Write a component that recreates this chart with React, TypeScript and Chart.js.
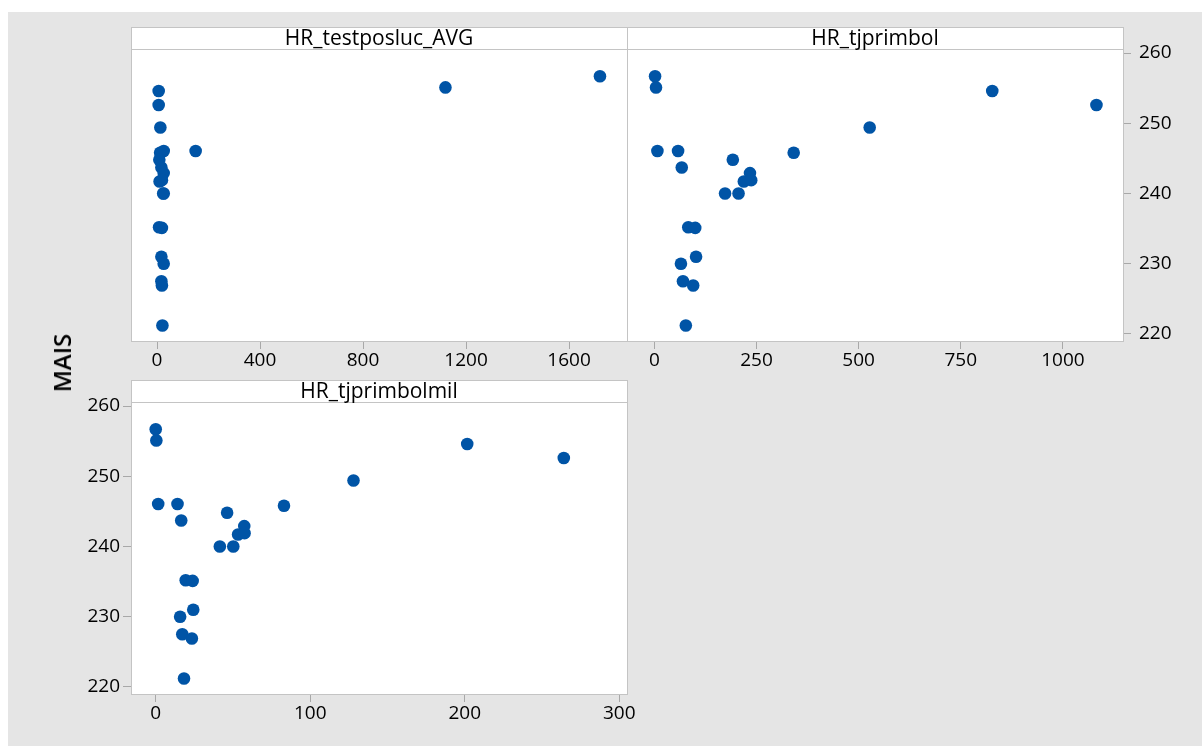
import { useEffect, useRef } from 'react';
import { Chart, registerables } from 'chart.js';

Chart.register(...registerables);

// ---- data ----
const MAIS = [256.7, 255.1, 254.6, 252.6, 249.4, 246.05, 246.05, 245.8, 243.7, 244.8, 242.9, 241.7, 241.9, 240.0, 240.0, 235.2, 235.1, 231.0, 230.0, 227.5, 226.9, 221.2];
const HR_testposluc_AVG = [1720, 1120, 6.5, 6.5, 13, 26, 150, 12, 17, 9, 26, 10, 19, 26, 24, 8, 19, 17, 26, 17, 19, 21];
const HR_tjprimbol = [1.7, 4, 827, 1082, 527, 7.4, 58, 341, 67, 192, 234, 219, 237, 173, 206, 83, 100, 102, 65, 70, 95, 77];
const HR_tjprimbolmil = [0, 0.4, 201.6, 264.1, 128, 1.6, 14.1, 83, 16.5, 46.2, 57.3, 53.3, 57.5, 41.5, 50.2, 19.4, 23.9, 24.3, 15.8, 17.2, 23.4, 18.3];

const xTicksAvg = [0, 400, 800, 1200, 1600];
const xTicksTjp = [0, 250, 500, 750, 1000];
const xTicksMil = [0, 100, 200, 300];
const yTicks = [220, 230, 240, 250, 260];
const panelTitles = ['HR_testposluc_AVG', 'HR_tjprimbol', 'HR_tjprimbolmil'];
const yAxisTitle = 'MAIS';

// ---- styling ----
const FONT = "'Open Sans', 'Noto Sans', sans-serif";
const W = 1202;
const H = 746;
const BLUE = '#0054a6';
const TICK = '#a8a8a8';
const FRAME = '#c4c4c4';
const Y_MIN = 219.0;
const Y_MAX = 260.57;

const framePlugin = {
  id: 'panelFrame',
  beforeDraw(chart: any, _a: any, opts: any) {
    const { ctx, chartArea: a } = chart;
    ctx.save();
    ctx.fillStyle = '#ffffff';
    ctx.fillRect(a.left, a.top - opts.strip, a.right - a.left, a.bottom - a.top + opts.strip);
    ctx.restore();
  },
  afterDraw(chart: any, _a: any, opts: any) {
    const { ctx, chartArea: a } = chart;
    const top = a.top - opts.strip;
    ctx.save();
    ctx.strokeStyle = FRAME;
    ctx.lineWidth = 1;
    ctx.strokeRect(a.left + 0.5, top + 0.5, a.right - a.left, a.bottom - top);
    ctx.beginPath();
    ctx.moveTo(a.left, a.top + 0.5);
    ctx.lineTo(a.right, a.top + 0.5);
    ctx.stroke();
    ctx.fillStyle = '#000';
    ctx.font = `21px ${FONT}`;
    ctx.textAlign = 'center';
    ctx.textBaseline = 'middle';
    ctx.fillText(opts.title, (a.left + a.right) / 2, top + opts.strip / 2 + 1);
    ctx.restore();
  },
};

type Panel = {
  xs: number[];
  title: string;
  xMin: number;
  xMax: number;
  xTicks: number[];
  yPos: 'none' | 'left' | 'right';
  padding: { left: number; right: number; top: number; bottom: number };
};

function makeConfig(p: Panel): any {
  const showY = p.yPos !== 'none';
  return {
    type: 'scatter',
    data: {
      datasets: [
        {
          data: p.xs.map((x, i) => ({ x, y: MAIS[i] })),
          backgroundColor: BLUE,
          borderWidth: 0,
          pointRadius: 6.3,
          pointHoverRadius: 6.3,
        },
      ],
    },
    options: {
      responsive: false,
      animation: false,
      events: [],
      layout: { padding: p.padding },
      plugins: {
        legend: { display: false },
        tooltip: { enabled: false },
        panelFrame: { title: p.title, strip: 22 },
      },
      scales: {
        x: {
          type: 'linear',
          position: 'bottom',
          min: p.xMin,
          max: p.xMax,
          afterBuildTicks: (s: any) => {
            s.ticks = p.xTicks.map((v) => ({ value: v }));
          },
          afterFit: (s: any) => {
            s.height = 40;
          },
          grid: { drawOnChartArea: false, drawTicks: true, tickLength: 8, color: TICK, lineWidth: 1 },
          border: { display: false },
          ticks: {
            font: { family: FONT, size: 19 },
            color: '#000',
            padding: 0,
            maxRotation: 0,
            autoSkip: false,
            callback: (v: any) => String(v),
          },
        },
        y: {
          type: 'linear',
          position: p.yPos === 'right' ? 'right' : 'left',
          display: showY,
          min: Y_MIN,
          max: Y_MAX,
          afterBuildTicks: (s: any) => {
            s.ticks = yTicks.map((v) => ({ value: v }));
          },
          afterFit: (s: any) => {
            s.width = showY ? 50 : 0;
          },
          grid: { drawOnChartArea: false, drawTicks: true, tickLength: 8, color: TICK, lineWidth: 1 },
          border: { display: false },
          ticks: {
            font: { family: FONT, size: 19 },
            color: '#000',
            padding: p.yPos === 'right' ? 8 : 3,
            autoSkip: false,
            callback: (v: any) => String(v),
          },
        },
      },
    },
    plugins: [framePlugin],
  };
}

export default function App() {
  const c1 = useRef<HTMLCanvasElement>(null);
  const c2 = useRef<HTMLCanvasElement>(null);
  const c3 = useRef<HTMLCanvasElement>(null);

  useEffect(() => {
    const panels: Panel[] = [
      {
        xs: HR_testposluc_AVG,
        title: panelTitles[0],
        xMin: -101,
        xMax: 1825,
        xTicks: xTicksAvg,
        yPos: 'none',
        padding: { left: 131, right: W - 627, top: 49, bottom: H - 341 - 40 },
      },
      {
        xs: HR_tjprimbol,
        title: panelTitles[1],
        xMin: -67,
        xMax: 1147,
        xTicks: xTicksTjp,
        yPos: 'right',
        padding: { left: 627, right: W - 1123 - 50, top: 49, bottom: H - 341 - 40 },
      },
      {
        xs: HR_tjprimbolmil,
        title: panelTitles[2],
        xMin: -16,
        xMax: 305,
        xTicks: xTicksMil,
        yPos: 'left',
        padding: { left: 131 - 50, right: W - 627, top: 402, bottom: H - 694 - 40 },
      },
    ];
    const refs = [c1, c2, c3];
    const charts = panels.map((p, i) => new Chart(refs[i].current as HTMLCanvasElement, makeConfig(p)));
    return () => charts.forEach((c) => c.destroy());
  }, []);

  const canvasStyle: any = { position: 'absolute', left: 0, top: 0, width: W, height: H };

  return (
    <div style={{ position: 'absolute', left: 0, top: 0, width: W, height: H, background: '#ffffff', overflow: 'hidden' }}>
      <div style={{ position: 'absolute', left: 8, top: 12, right: 0, bottom: 0, background: '#e5e5e5' }} />
      <canvas ref={c1} width={W} height={H} style={canvasStyle} />
      <canvas ref={c2} width={W} height={H} style={canvasStyle} />
      <canvas ref={c3} width={W} height={H} style={canvasStyle} />
      <div
        style={{
          position: 'absolute',
          left: 62,
          top: 363,
          transform: 'translate(-50%, -50%) rotate(-90deg)',
          font: `600 24px ${FONT}`,
          color: '#000',
          whiteSpace: 'nowrap',
          lineHeight: 1,
        }}
      >
        {yAxisTitle}
      </div>
    </div>
  );
}
